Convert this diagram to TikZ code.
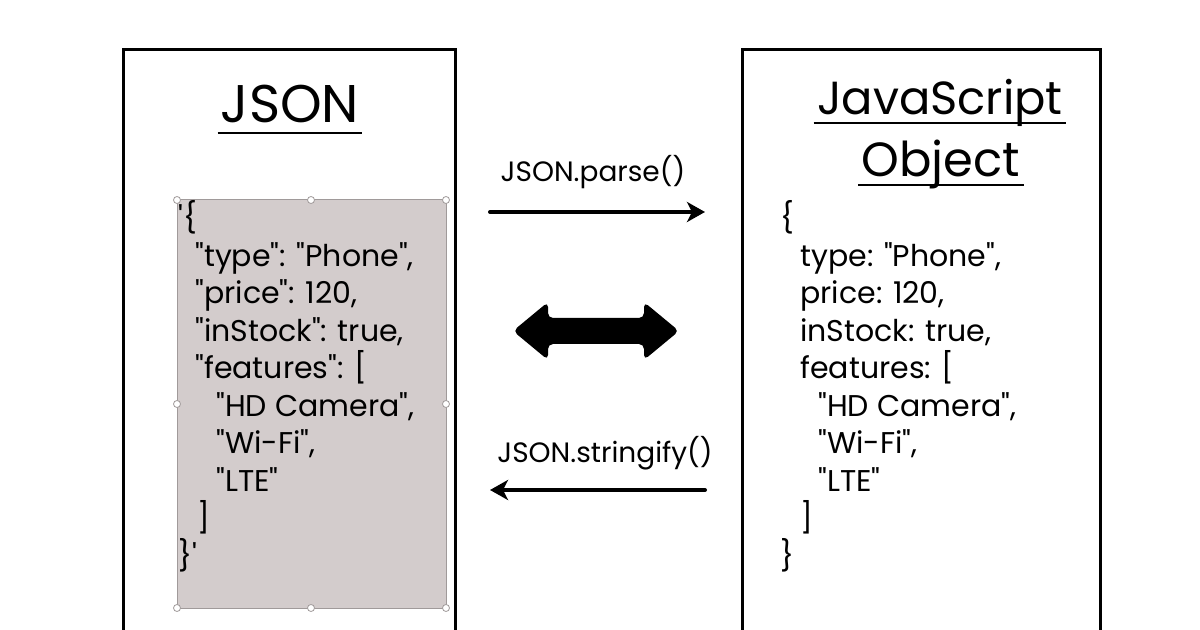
\documentclass[tikz,border=0pt]{standalone}
\usepackage{fontspec}
\newfontfamily\pf{Poppins}
\usetikzlibrary{arrows.meta,calc}
\definecolor{boxgray}{HTML}{D3CCCC}
\definecolor{handlegray}{HTML}{A09A9A}
\begin{document}
\begin{tikzpicture}[x=0.5pt,y=-0.5pt,
  frame/.style={line width=1.5pt, black},
  codeline/.style={anchor=base west, inner sep=0pt, font=\pf\fontsize{15}{18}\selectfont},
  titletext/.style={anchor=base, inner sep=0pt, font=\pf\fontsize{24}{28}\selectfont},
  lbl/.style={anchor=base, inner sep=0pt, font=\pf\fontsize{14}{17}\selectfont},
  uline/.style={line width=1.4pt},
  handle/.style={circle, draw=handlegray, fill=white, line width=0.4pt, inner sep=0pt, minimum size=3.5pt},
  thinarrow/.style={line width=2pt, line cap=round, -{Stealth[length=9pt,width=10pt,inset=2.5pt]}}
]
\path[use as bounding box] (0,0) rectangle (1200,630);
\clip (0,0) rectangle (1200,630);
\fill[white] (0,0) rectangle (1200,630);

% frames
\draw[frame] (123,650) -- (123,50) -- (455,50) -- (455,650);
\draw[frame] (742,650) -- (742,50) -- (1100,50) -- (1100,650);

% titles
\node[titletext, font=\pf\fontsize{26.5}{30}\selectfont] (tjson) at (290,123) {JSON};
\draw[uline] ($(tjson.base west)+(-3,10)$) -- ($(tjson.base east)+(3,10)$);
\node[titletext, font=\pf\fontsize{23.2}{28}\selectfont] (tjs) at (940,115) {JavaScript};
\draw[uline] ($(tjs.base west)+(-3,8)$) -- ($(tjs.base east)+(3,8)$);
\node[titletext] (tobj) at (941,177) {Object};
\draw[uline] ($(tobj.base west)+(-3,8)$) -- ($(tobj.base east)+(3,8)$);

% gray selection box
\draw[fill=boxgray, draw=handlegray, line width=0.5pt] (177,200) rectangle (446,608);
\foreach \hx/\hy [count=\k] in {177/200,311/200,446/200,177/404,446/404,177/608,311/608,446/608}
  \node[handle] (h\k) at (\hx,\hy) {};

% JSON text
\node[codeline] (l1) at (178,229) {'\{};
\node[codeline] (l2) at (195,267) {"type": "Phone",};
\node[codeline] (l3) at (195,304) {"price": 120,};
\node[codeline] (l4) at (195,342) {"inStock": true,};
\node[codeline] (l5) at (195,379) {"features": [};
\node[codeline] (l6) at (216,417) {"HD Camera",};
\node[codeline] (l7) at (216,454) {"Wi-Fi",};
\node[codeline] (l8) at (216,492) {"LTE"};
\node[codeline] (l9) at (197,529) {]};
\node[codeline] (l10) at (178,567) {\}'};

% JS object text
\node[codeline] (r1) at (780,229) {\{};
\node[codeline] (r2) at (800,267) {type: "Phone",};
\node[codeline] (r3) at (800,304) {price: 120,};
\node[codeline] (r4) at (800,342) {inStock: true,};
\node[codeline] (r5) at (800,379) {features: [};
\node[codeline] (r6) at (818,417) {"HD Camera",};
\node[codeline] (r7) at (818,454) {"Wi-Fi",};
\node[codeline] (r8) at (818,492) {"LTE"};
\node[codeline] (r9) at (800,529) {]};
\node[codeline] (r10) at (780,567) {\}};

% arrows and labels
\node[lbl] (parse) at (593,182) {JSON.parse()};
\coordinate (pa) at (490,212);
\coordinate (pb) at (705,212);
\draw[thinarrow] (pa) -- (pb);

\node[lbl] (strfy) at (605,463) {JSON.stringify()};
\coordinate (sa) at (705,490);
\coordinate (sb) at (490,490);
\draw[thinarrow] (sa) -- (sb);

% big double arrow
\fill[black, rounded corners=2.5pt]
  (513,331) -- (548,302) -- (548,318) -- (644,318) -- (644,302) -- (679,331)
  -- (644,360) -- (644,344) -- (548,344) -- (548,360) -- cycle;
\end{tikzpicture}
\end{document}
